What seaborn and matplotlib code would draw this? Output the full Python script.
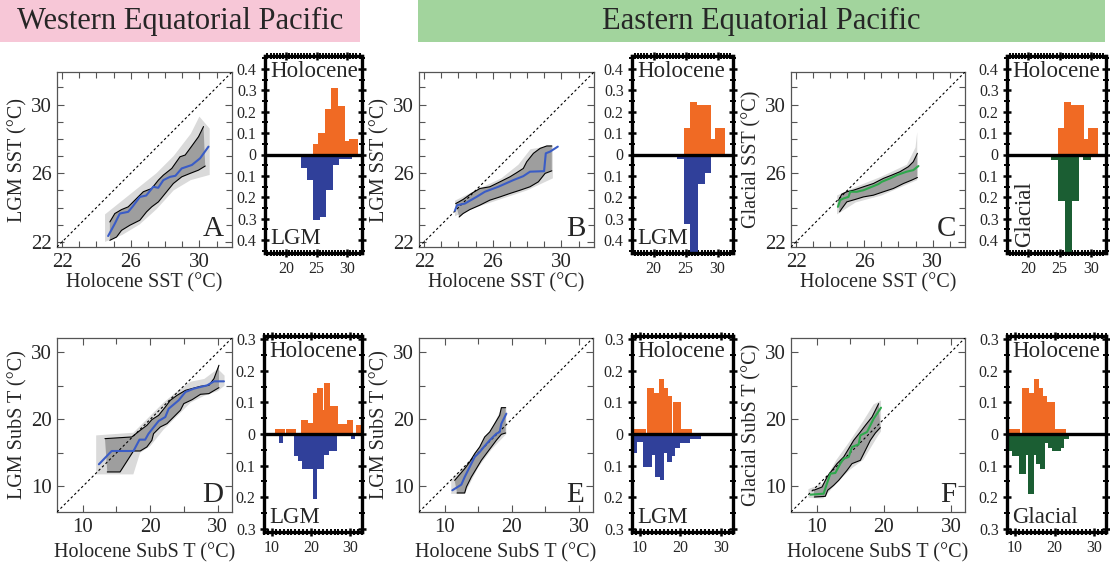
import numpy as np
import matplotlib
matplotlib.use("Agg")
import matplotlib.pyplot as plt
import seaborn as sns
from matplotlib.ticker import MultipleLocator, FixedLocator, FuncFormatter
from matplotlib.patches import Rectangle

# ----------------------------- DATA -----------------------------
# Panel A : Western Eq. Pacific SST (LGM vs Holocene)
A_med_x = [24.68, 25.07, 25.36, 25.85, 26.10, 26.53, 26.90, 27.31, 27.60, 27.90, 28.29, 28.60, 28.97, 29.56, 30.04, 30.53]
A_med_y = [22.34, 23.06, 23.65, 23.75, 24.05, 24.62, 24.70, 25.21, 25.15, 25.60, 25.79, 25.85, 26.28, 26.48, 26.87, 27.55]
A_up_x = [24.78, 25.07, 25.46, 25.85, 26.34, 26.73, 27.22, 27.61, 27.90, 28.39, 28.87, 29.17, 29.56, 29.95, 30.24]
A_up_y = [23.16, 23.65, 23.88, 24.04, 24.53, 24.92, 25.11, 25.60, 25.89, 26.28, 26.96, 27.06, 27.59, 28.13, 28.72]
A_lo_x = [24.78, 25.17, 25.46, 25.95, 26.53, 26.92, 27.22, 27.61, 28.09, 28.48, 28.97, 29.46, 29.95, 30.34]
A_lo_y = [22.09, 22.28, 22.67, 22.97, 23.26, 23.75, 24.04, 24.33, 24.92, 25.40, 25.79, 25.99, 26.18, 26.42]
A_cloud_hi_x = [24.5, 25.5, 26.5, 27.5, 28.5, 29.5, 30.0, 30.6]
A_cloud_hi_y = [23.6, 24.4, 25.2, 26.0, 27.0, 28.3, 29.3, 28.6]
A_cloud_lo_x = [24.5, 25.5, 26.5, 27.5, 28.5, 29.5, 30.6]
A_cloud_lo_y = [22.0, 22.4, 23.0, 23.9, 25.0, 25.6, 25.9]

# Panel B : Eastern Eq. Pacific SST (LGM vs Holocene)
B_med_x = [23.79, 23.92, 24.37, 25.05, 25.54, 26.32, 27.20, 27.78, 28.17, 28.99, 29.09, 29.34, 29.79]
B_med_y = [23.81, 24.14, 24.23, 24.62, 24.92, 25.21, 25.60, 25.83, 26.09, 26.12, 27.16, 27.26, 27.55]
B_up_x = [23.84, 24.27, 24.76, 25.25, 25.83, 26.42, 27.00, 27.39, 27.78, 27.98, 28.37, 28.76, 29.15, 29.44]
B_up_y = [24.23, 24.47, 24.82, 25.11, 25.21, 25.50, 25.79, 26.03, 26.28, 26.67, 27.16, 27.45, 27.59, 27.59]
B_lo_x = [24.04, 24.27, 24.66, 25.25, 25.83, 26.42, 27.00, 27.59, 28.17, 28.66, 29.05, 29.44]
B_lo_y = [23.45, 23.65, 23.88, 24.14, 24.43, 24.62, 24.82, 25.01, 25.21, 25.50, 25.99, 26.14]
B_cloud_hi_x = [23.8, 25.0, 26.5, 27.5, 28.2, 29.5]
B_cloud_hi_y = [24.4, 25.0, 25.7, 26.5, 27.4, 27.6]
B_cloud_lo_x = [23.8, 25.0, 26.5, 28.0, 29.5]
B_cloud_lo_y = [23.5, 24.0, 24.5, 25.0, 25.7]

# Panel C : Eastern Eq. Pacific SST (Glacial vs Holocene)
C_med_x = [24.45, 24.58, 24.78, 25.07, 25.17, 25.56, 25.95, 26.44, 26.83, 27.02, 27.51, 27.90, 28.48, 28.87, 29.17]
C_med_y = [24.04, 24.43, 24.53, 24.62, 24.92, 24.92, 25.01, 25.21, 25.37, 25.50, 25.70, 25.89, 26.09, 26.18, 26.42]
C_up_x = [24.49, 24.68, 24.97, 25.36, 25.95, 26.53, 27.12, 27.61, 28.09, 28.58, 28.87, 29.11]
C_up_y = [24.43, 24.78, 24.92, 25.01, 25.21, 25.40, 25.70, 25.89, 26.09, 26.38, 26.67, 27.16]
C_lo_x = [24.55, 24.68, 24.97, 25.46, 25.95, 26.53, 27.12, 27.70, 28.29, 28.78, 29.11]
C_lo_y = [23.75, 23.94, 24.33, 24.47, 24.62, 24.72, 24.92, 25.11, 25.40, 25.60, 25.75]
C_cloud_hi_x = [24.4, 25.5, 27.0, 28.5, 29.0, 29.1]
C_cloud_hi_y = [24.7, 25.2, 25.8, 26.5, 27.5, 28.4]
C_cloud_lo_x = [24.4, 25.5, 27.0, 29.1]
C_cloud_lo_y = [23.6, 24.3, 24.7, 25.6]

# Panel D : Western Eq. Pacific subsurface T
D_med_x = [12.40, 14.29, 17.52, 18.41, 19.25, 19.75, 21.24, 22.23, 22.73, 24.21, 25.21, 26.45, 28.43, 29.43, 30.91]
D_med_y = [13.30, 15.28, 15.28, 16.97, 16.97, 17.86, 19.75, 20.34, 21.58, 22.83, 24.07, 24.56, 25.06, 25.65, 25.65]
D_up_x = [13.30, 17.27, 18.51, 19.50, 20.24, 21.24, 22.23, 22.97, 23.97, 25.21, 27.44, 28.68, 29.43, 30.17]
D_up_y = [17.12, 17.37, 18.36, 19.10, 19.95, 20.59, 21.83, 22.83, 23.57, 24.31, 24.91, 25.06, 26.05, 28.04]
D_lo_x = [13.64, 15.53, 17.52, 18.51, 19.50, 20.24, 20.49, 21.49, 22.48, 23.47, 24.46, 24.96, 26.20, 27.44, 28.68, 30.17]
D_lo_y = [12.16, 12.16, 15.28, 15.28, 15.88, 16.87, 17.86, 18.86, 19.35, 20.34, 21.34, 22.33, 22.92, 23.72, 23.82, 24.71]
D_cloud_hi_x = [12.0, 17.5, 20.0, 22.0, 24.0, 26.0, 28.0, 30.0, 31.0]
D_cloud_hi_y = [17.6, 18.0, 20.5, 22.5, 24.2, 25.6, 26.0, 27.5, 26.5]
D_cloud_lo_x = [12.0, 17.5, 18.5, 20.0, 22.0, 24.0, 26.0, 28.0, 30.0, 31.0]
D_cloud_lo_y = [11.8, 11.8, 15.0, 16.0, 18.5, 20.5, 22.5, 23.5, 24.2, 25.0]

# Panel E : Eastern Eq. Pacific subsurface T (LGM)
E_med_x = [11.16, 12.50, 13.00, 13.74, 14.49, 15.23, 15.98, 16.72, 17.71, 18.21, 18.46, 19.20]
E_med_y = [9.43, 10.27, 11.41, 12.90, 14.39, 15.13, 16.03, 16.87, 17.86, 18.11, 19.35, 20.84]
E_up_x = [11.51, 13.00, 13.74, 14.49, 15.23, 15.98, 16.72, 17.47, 18.21, 18.46, 19.10]
E_up_y = [10.91, 12.65, 13.64, 14.88, 15.88, 17.37, 18.11, 19.35, 20.59, 21.73, 21.73]
E_lo_x = [11.86, 13.00, 13.25, 13.99, 14.74, 15.48, 16.22, 16.97, 17.71, 18.46, 19.10]
E_lo_y = [9.03, 9.03, 9.92, 11.41, 12.65, 13.89, 14.88, 15.88, 16.87, 17.76, 17.96]
E_cloud_hi_x = [11.0, 13.0, 15.0, 17.0, 18.5, 19.2]
E_cloud_hi_y = [11.0, 13.0, 15.5, 18.5, 21.7, 21.7]
E_cloud_lo_x = [11.0, 13.0, 15.0, 17.0, 19.2]
E_cloud_lo_y = [8.9, 8.9, 12.8, 15.5, 17.8]

# Panel F : Eastern Eq. Pacific subsurface T (Glacial)
F_med_x = [9.08, 11.06, 11.46, 12.06, 12.80, 13.54, 14.04, 14.79, 15.28, 16.27, 16.52, 17.52, 18.51, 19.60]
F_med_y = [8.78, 8.93, 10.17, 11.91, 12.01, 13.40, 14.14, 14.39, 15.88, 16.27, 17.61, 18.11, 20.10, 21.73]
F_up_x = [9.57, 10.82, 11.56, 12.30, 13.05, 14.04, 14.79, 15.53, 16.52, 17.27, 18.26, 19.25]
F_up_y = [9.43, 9.92, 11.41, 12.40, 13.40, 14.39, 15.63, 16.87, 18.11, 19.10, 20.34, 22.33]
F_lo_x = [9.67, 11.31, 11.66, 12.55, 13.30, 14.54, 15.28, 16.52, 17.02, 18.01, 18.76, 19.50]
F_lo_y = [8.43, 8.53, 9.43, 10.17, 10.91, 12.40, 13.40, 13.89, 14.88, 16.87, 17.96, 18.76]
F_cloud_hi_x = [8.8, 11.0, 13.0, 15.0, 17.0, 18.5, 19.6]
F_cloud_hi_y = [9.6, 10.5, 14.0, 16.8, 19.8, 22.2, 22.8]
F_cloud_lo_x = [8.8, 11.0, 13.0, 15.0, 17.0, 19.0, 19.6]
F_cloud_lo_y = [8.3, 8.2, 10.5, 12.5, 14.0, 17.3, 18.2]

# Histograms (fraction of sites per bin: left edge, right edge, fraction)
WEP_SST_holo_left = [24.35, 25.3, 26.4, 27.4, 28.5, 29.6, 30.3]
WEP_SST_holo_right = [25.3, 26.4, 27.4, 28.5, 29.6, 30.3, 31.7]
WEP_SST_holo_frac = [0.047, 0.10, 0.214, 0.31, 0.227, 0.061, 0.073]
WEP_SST_lgm_left = [22.47, 23.44, 24.35, 25.54, 26.6, 27.7, 28.66]
WEP_SST_lgm_right = [23.44, 24.35, 25.54, 26.6, 27.7, 28.66, 30.7]
WEP_SST_lgm_frac = [0.0625, 0.12, 0.305, 0.294, 0.164, 0.047, 0.019]

EEP_SST_holo_left = [24.68, 25.7, 26.77, 27.8, 28.9, 29.6]
EEP_SST_holo_right = [25.7, 26.77, 27.8, 28.9, 29.6, 31.1]
EEP_SST_holo_frac = [0.125, 0.247, 0.23, 0.23, 0.073, 0.125]
EEP_SST_lgm_left = [23.7, 24.68, 25.7, 26.9, 28.0]
EEP_SST_lgm_right = [24.68, 25.7, 26.9, 28.0, 28.9]
EEP_SST_lgm_frac = [0.02, 0.323, 0.50, 0.136, 0.086]
EEP_SST_glac_left = [23.7, 24.8, 25.86, 27.04, 28.66]
EEP_SST_glac_right = [24.8, 25.86, 27.04, 28.1, 30.0]
EEP_SST_glac_frac = [0.028, 0.219, 0.50, 0.219, 0.028]

WEP_SubT_holo_left = [10.8, 13.6, 17.4, 19.2, 20.5, 21.6, 23.0, 23.4, 24.9, 26.8, 29.2, 31.4]
WEP_SubT_holo_right = [13.3, 16.2, 19.2, 20.5, 21.6, 23.0, 23.4, 24.9, 26.8, 29.2, 30.7, 33.0]
WEP_SubT_holo_frac = [0.016, 0.016, 0.045, 0.035, 0.13, 0.145, 0.075, 0.16, 0.09, 0.033, 0.045, 0.03]
WEP_SubT_lgm_left = [11.8, 15.75, 16.8, 17.8, 20.5, 21.6, 23.2, 24.5, 30.3]
WEP_SubT_lgm_right = [12.8, 16.8, 17.8, 20.5, 21.6, 23.2, 24.5, 26.7, 31.2]
WEP_SubT_lgm_frac = [0.03, 0.07, 0.085, 0.11, 0.205, 0.11, 0.065, 0.055, 0.015]

EEP_SubT_holo_left = [8.0, 11.8, 13.45, 14.7, 16.0, 17.0, 18.15, 20.05]
EEP_SubT_holo_right = [11.4, 13.45, 14.7, 16.0, 17.0, 18.0, 20.05, 22.9]
EEP_SubT_holo_frac = [0.016, 0.146, 0.13, 0.173, 0.145, 0.12, 0.10, 0.016]
EEP_SubT_lgm_left = [8.0, 9.3, 10.8, 12.85, 13.7, 14.9, 16.0, 16.6, 17.9, 18.75, 20.0, 22.3]
EEP_SubT_lgm_right = [9.3, 10.8, 12.85, 13.7, 14.9, 16.0, 16.6, 17.9, 18.75, 20.0, 22.3, 25.2]
EEP_SubT_lgm_frac = [0.06, 0.025, 0.105, 0.065, 0.135, 0.145, 0.06, 0.09, 0.07, 0.045, 0.03, 0.015]
EEP_SubT_glac_left = [8.0, 9.3, 11.1, 12.9, 13.3, 14.75, 15.4, 16.25, 17.7, 18.3, 19.4, 21.7, 22.5]
EEP_SubT_glac_right = [9.3, 11.1, 12.9, 13.3, 14.75, 15.4, 16.25, 17.7, 18.3, 19.4, 21.7, 22.5, 23.75]
EEP_SubT_glac_frac = [0.055, 0.07, 0.125, 0.065, 0.19, 0.065, 0.095, 0.11, 0.03, 0.045, 0.055, 0.045, 0.015]

region_titles = ["Western Equatorial Pacific", "Eastern Equatorial Pacific"]
panel_letters = ["A", "B", "C", "D", "E", "F"]
x_labels = ["Holocene SST (°C)", "Holocene SubS T (°C)"]
y_labels = ["LGM SST (°C)", "LGM SST (°C)", "Glacial SST (°C)",
            "LGM SubS T (°C)", "LGM SubS T (°C)", "Glacial SubS T (°C)"]
hist_top_label = "Holocene"
hist_bottom_labels = ["LGM", "LGM", "Glacial", "LGM", "LGM", "Glacial"]

# ----------------------------- STYLE -----------------------------
sns.set_theme(style="ticks")
plt.rcParams['font.family'] = ['Liberation Serif', 'DejaVu Serif']
plt.rcParams['axes.unicode_minus'] = False

ORANGE = '#f06a24'
NAVY = '#30409a'
DKGREEN = '#1b5e33'
LINE_BLUE = '#3a5cc6'
LINE_GREEN = '#2ea84c'

W, H = 1110, 569
fig = plt.figure(figsize=(W / 100, H / 100), dpi=100)
fig.patch.set_facecolor('white')


def add_ax(x0, y0, x1, y1):
    return fig.add_axes([x0 / W, 1 - y1 / H, (x1 - x0) / W, (y1 - y0) / H])


# header boxes
fig.patches.append(Rectangle((0 / W, 1 - 42 / H), 360 / W, 42 / H, transform=fig.transFigure,
                             facecolor='#f7c7d7', edgecolor='none', zorder=0))
fig.patches.append(Rectangle((418 / W, 1 - 42 / H), 687 / W, 42 / H, transform=fig.transFigure,
                             facecolor='#a2d49d', edgecolor='none', zorder=0))
fig.text(180 / W, 1 - 21 / H, region_titles[0], ha='center', va='center', fontsize=22)
fig.text(761 / W, 1 - 21 / H, region_titles[1], ha='center', va='center', fontsize=22)


def scatter_panel(ax, lim, majors, minor, cx_hi, cy_hi, cx_lo, cy_lo,
                  ux, uy, lx, ly, mx, my, mcolor, xlabel, ylabel, letter):
    ax.set_facecolor('white')
    ax.set_xlim(lim)
    ax.set_ylim(lim)
    ax.fill(np.r_[cx_hi, cx_lo[::-1]], np.r_[cy_hi, cy_lo[::-1]],
            color='#dadada', lw=0, zorder=1)
    ax.fill(np.r_[ux, lx[::-1]], np.r_[uy, ly[::-1]],
            color='#9e9e9e', lw=0, zorder=2)
    ax.plot(lim, lim, ls=(0, (2.2, 2.2)), color='black', lw=0.8, zorder=3)
    sns.lineplot(x=ux, y=uy, sort=False, estimator=None, color='black', lw=0.8, ax=ax, zorder=4)
    sns.lineplot(x=lx, y=ly, sort=False, estimator=None, color='black', lw=0.8, ax=ax, zorder=4)
    sns.lineplot(x=mx, y=my, sort=False, estimator=None, color=mcolor, lw=1.5, ax=ax, zorder=5)
    ax.xaxis.set_major_locator(FixedLocator(majors))
    ax.yaxis.set_major_locator(FixedLocator(majors))
    ax.xaxis.set_minor_locator(MultipleLocator(minor))
    ax.yaxis.set_minor_locator(MultipleLocator(minor))
    for s in ax.spines.values():
        s.set_color('#555555')
        s.set_linewidth(0.9)
    ax.tick_params(which='both', direction='in', top=True, right=True, color='#555555')
    ax.tick_params(which='major', length=5, width=0.8, labelsize=15, pad=4)
    ax.tick_params(which='minor', length=4, width=0.8)
    ax.set_xlabel(xlabel, fontsize=14.5, labelpad=1)
    ax.set_ylabel(ylabel, fontsize=14.5, labelpad=2)
    ax.text(0.95, 0.06, letter, transform=ax.transAxes, ha='right', va='baseline', fontsize=21)


def hist_panel(ax, xlim, ylim, xticks, xminor, hl, hr, hf, gl, gr, gf, gcolor, top_label,
               bottom_label, vertical):
    ax.set_facecolor('white')
    hl, hr, hf = map(np.asarray, (hl, hr, hf))
    gl, gr, gf = map(np.asarray, (gl, gr, gf))
    ax.bar(hl, hf, width=hr - hl, align='edge', color=ORANGE, lw=0, zorder=2)
    ax.bar(gl, -gf, width=gr - gl, align='edge', color=gcolor, lw=0, zorder=2)
    ax.axhline(0, color='black', lw=2.4, zorder=3)
    ax.set_xlim(xlim)
    ax.set_ylim(-ylim, ylim)
    ax.set_xticks(xticks)
    ax.xaxis.set_minor_locator(MultipleLocator(xminor))
    nt = int(round(ylim // 0.1))
    ax.set_yticks(np.round(np.arange(-nt, nt + 1) * 0.1, 2))
    ax.yaxis.set_minor_locator(MultipleLocator(0.05))
    ax.yaxis.set_major_formatter(FuncFormatter(lambda v, p: '0' if abs(v) < 1e-9 else f'{abs(v):.1f}'))
    for s in ax.spines.values():
        s.set_color('black')
        s.set_linewidth(2.4)
    ax.tick_params(which='both', direction='inout', top=True, right=True, color='black')
    ax.tick_params(which='major', length=6, width=1.8, labelsize=11.5, pad=3)
    ax.tick_params(which='minor', length=4, width=1.4)
    ax.text(0.05, 0.975, top_label, transform=ax.transAxes, ha='left', va='top', fontsize=16.5, zorder=5)
    if vertical:
        ax.text(0.07, 0.03, bottom_label, transform=ax.transAxes, ha='left', va='bottom',
                rotation=90, fontsize=16.5, zorder=5)
    else:
        ax.text(0.05, 0.02, bottom_label, transform=ax.transAxes, ha='left', va='bottom',
                fontsize=16.5, zorder=5)


# ---- row 1 scatter ----
sst_lim = (21.7, 31.9)
sst_majors = [22, 26, 30]
sub_lim = (6.2, 32.1)
sub_majors = [10, 20, 30]

axA = add_ax(57, 72, 232, 247)
scatter_panel(axA, sst_lim, sst_majors, 1, A_cloud_hi_x, A_cloud_hi_y, A_cloud_lo_x, A_cloud_lo_y,
              A_up_x, A_up_y, A_lo_x, A_lo_y, A_med_x, A_med_y, LINE_BLUE, x_labels[0], y_labels[0], panel_letters[0])
axB = add_ax(419, 72, 594, 247)
scatter_panel(axB, sst_lim, sst_majors, 1, B_cloud_hi_x, B_cloud_hi_y, B_cloud_lo_x, B_cloud_lo_y,
              B_up_x, B_up_y, B_lo_x, B_lo_y, B_med_x, B_med_y, LINE_BLUE, x_labels[0], y_labels[1], panel_letters[1])
axC = add_ax(791, 72, 965, 247)
scatter_panel(axC, sst_lim, sst_majors, 1, C_cloud_hi_x, C_cloud_hi_y, C_cloud_lo_x, C_cloud_lo_y,
              C_up_x, C_up_y, C_lo_x, C_lo_y, C_med_x, C_med_y, LINE_GREEN, x_labels[0], y_labels[2], panel_letters[2])

# ---- row 2 scatter ----
axD = add_ax(57, 338, 232, 512)
scatter_panel(axD, sub_lim, sub_majors, 5, D_cloud_hi_x, D_cloud_hi_y, D_cloud_lo_x, D_cloud_lo_y,
              D_up_x, D_up_y, D_lo_x, D_lo_y, D_med_x, D_med_y, LINE_BLUE, x_labels[1], y_labels[3], panel_letters[3])
axE = add_ax(419, 338, 593, 512)
scatter_panel(axE, sub_lim, sub_majors, 5, E_cloud_hi_x, E_cloud_hi_y, E_cloud_lo_x, E_cloud_lo_y,
              E_up_x, E_up_y, E_lo_x, E_lo_y, E_med_x, E_med_y, LINE_BLUE, x_labels[1], y_labels[4], panel_letters[4])
axF = add_ax(791, 338, 965, 512)
scatter_panel(axF, sub_lim, sub_majors, 5, F_cloud_hi_x, F_cloud_hi_y, F_cloud_lo_x, F_cloud_lo_y,
              F_up_x, F_up_y, F_lo_x, F_lo_y, F_med_x, F_med_y, LINE_GREEN, x_labels[1], y_labels[5], panel_letters[5])
for ax in (axD, axE, axF):
    ax.xaxis.labelpad = 5

# ---- histograms ----
top_xlim = (16.6, 32.4)
bot_xlim = (8.0, 33.0)
hA = add_ax(265, 56, 362, 253)
hist_panel(hA, top_xlim, 0.46, [20, 25, 30], 0.5, WEP_SST_holo_left, WEP_SST_holo_right, WEP_SST_holo_frac,
           WEP_SST_lgm_left, WEP_SST_lgm_right, WEP_SST_lgm_frac, NAVY, hist_top_label, hist_bottom_labels[0], False)
hB = add_ax(632, 56, 733, 253)
hist_panel(hB, top_xlim, 0.46, [20, 25, 30], 0.5, EEP_SST_holo_left, EEP_SST_holo_right, EEP_SST_holo_frac,
           EEP_SST_lgm_left, EEP_SST_lgm_right, EEP_SST_lgm_frac, NAVY, hist_top_label, hist_bottom_labels[1], False)
hC = add_ax(1007, 56, 1106, 253)
hist_panel(hC, top_xlim, 0.46, [20, 25, 30], 0.5, EEP_SST_holo_left, EEP_SST_holo_right, EEP_SST_holo_frac,
           EEP_SST_glac_left, EEP_SST_glac_right, EEP_SST_glac_frac, DKGREEN, hist_top_label, hist_bottom_labels[2], True)

hD = add_ax(264, 336, 362, 532)
hist_panel(hD, bot_xlim, 0.31, [10, 20, 30], 1, WEP_SubT_holo_left, WEP_SubT_holo_right, WEP_SubT_holo_frac,
           WEP_SubT_lgm_left, WEP_SubT_lgm_right, WEP_SubT_lgm_frac, NAVY, hist_top_label, hist_bottom_labels[3], False)
hE = add_ax(632, 336, 733, 532)
hist_panel(hE, bot_xlim, 0.31, [10, 20, 30], 1, EEP_SubT_holo_left, EEP_SubT_holo_right, EEP_SubT_holo_frac,
           EEP_SubT_lgm_left, EEP_SubT_lgm_right, EEP_SubT_lgm_frac, NAVY, hist_top_label, hist_bottom_labels[4], False)
hF = add_ax(1007, 336, 1106, 532)
hist_panel(hF, bot_xlim, 0.31, [10, 20, 30], 1, EEP_SubT_holo_left, EEP_SubT_holo_right, EEP_SubT_holo_frac,
           EEP_SubT_glac_left, EEP_SubT_glac_right, EEP_SubT_glac_frac, DKGREEN, hist_top_label, hist_bottom_labels[5], False)

fig.savefig('out.png', dpi=100, facecolor='white')
